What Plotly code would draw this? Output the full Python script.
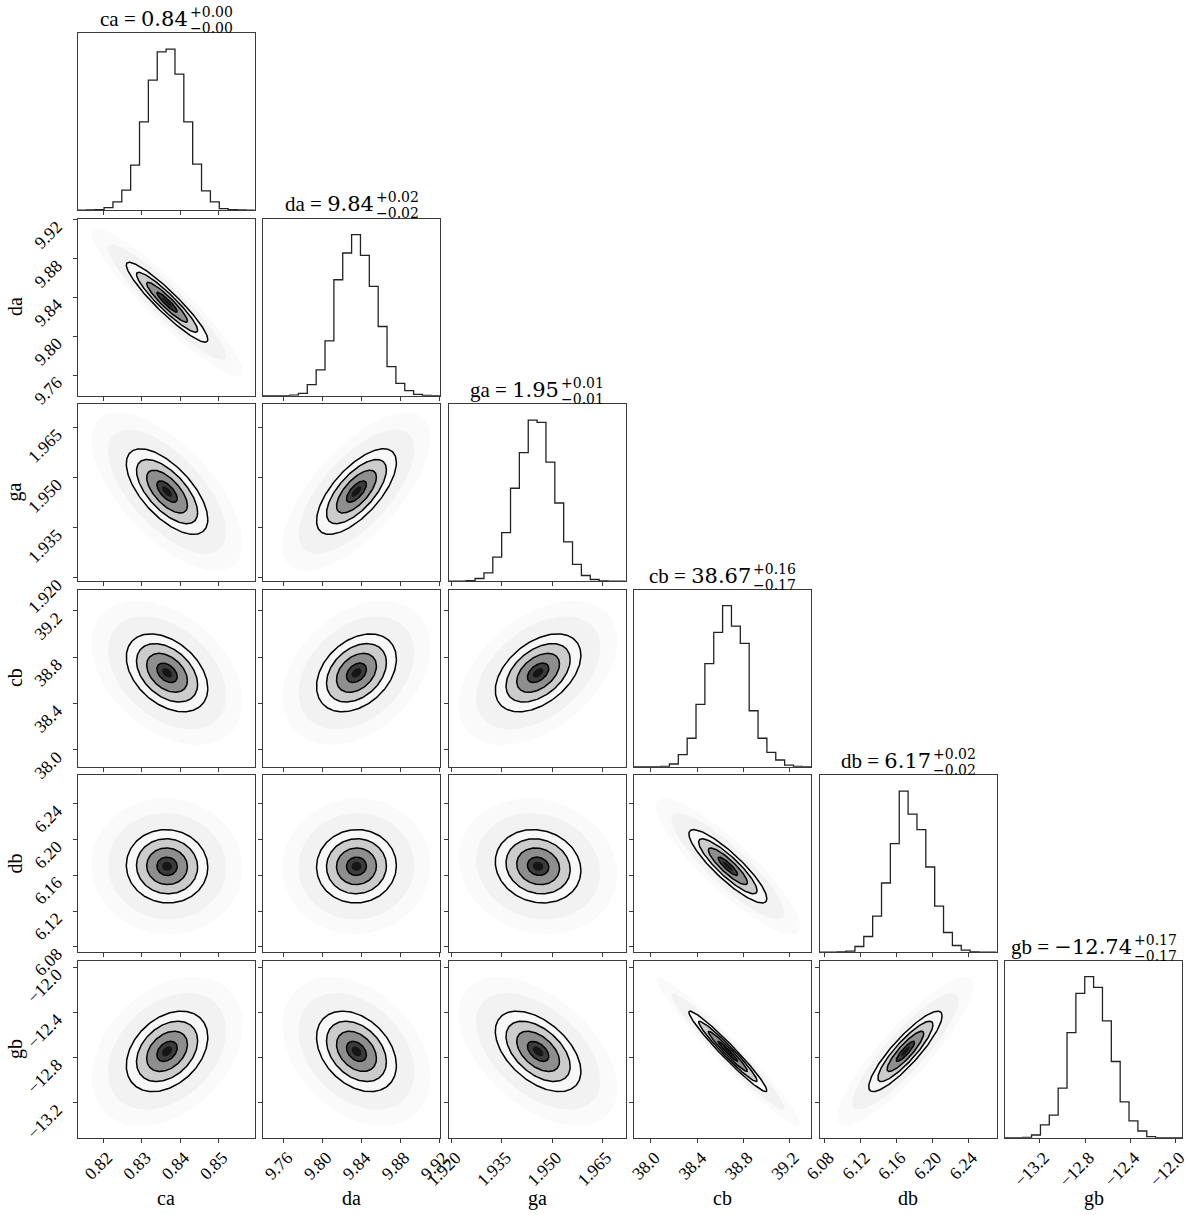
import numpy as np
import plotly.graph_objects as go

W, H = 1200, 1215

# ---------------- data ----------------
labels = ["ca", "da", "ga", "cb", "db", "gb"]
medians = ["0.84", "9.84", "1.95", "38.67", "6.17", "\u221212.74"]
err_plus = ["0.00", "0.02", "0.01", "0.16", "0.02", "0.17"]
err_minus = ["0.00", "0.02", "0.01", "0.17", "0.02", "0.17"]

range_ca = [0.8133, 0.8594]
range_da = [9.739, 9.921]
range_ga = [1.919, 1.972]
range_cb = [37.855, 39.384]
range_db = [6.074, 6.272]
range_gb = [-13.509, -11.941]

ticks_ca = [0.82, 0.83, 0.84, 0.85]
ticks_da = [9.76, 9.80, 9.84, 9.88, 9.92]
ticks_ga = [1.920, 1.935, 1.950, 1.965]
ticks_cb = [38.0, 38.4, 38.8, 39.2]
ticks_db = [6.08, 6.12, 6.16, 6.20, 6.24]
ticks_gb = [-13.2, -12.8, -12.4, -12.0]

ticklbl_ca = ["0.82", "0.83", "0.84", "0.85"]
ticklbl_da = ["9.76", "9.80", "9.84", "9.88", "9.92"]
ticklbl_ga = ["1.920", "1.935", "1.950", "1.965"]
ticklbl_cb = ["38.0", "38.4", "38.8", "39.2"]
ticklbl_db = ["6.08", "6.12", "6.16", "6.20", "6.24"]
ticklbl_gb = ["\u221213.2", "\u221212.8", "\u221212.4", "\u221212.0"]

# 20-bin histogram counts (relative heights)
hist_ca = [0, 1, 2, 8, 25, 60, 135, 265, 390, 475, 483, 408, 265, 138, 58, 25, 5, 2, 1, 0]
hist_da = [0, 0, 0.5, 2, 7, 33, 77, 164, 347, 427, 482, 420, 327, 207, 87, 37, 15, 4, 1, 0]
hist_ga = [0, 0, 2, 8, 25, 72, 145, 277, 383, 480, 473, 355, 233, 117, 50, 17, 5, 1, 0, 0]
hist_cb = [0, 0, 0, 1, 8, 36, 85, 186, 308, 401, 481, 420, 368, 167, 85, 43, 20, 5, 1, 0]
hist_db = [0, 0.5, 1, 3, 17, 47, 108, 207, 325, 482, 413, 367, 255, 138, 59, 20, 6, 1, 0, 0]
hist_gb = [0, 0.5, 1, 8, 38, 67, 148, 313, 430, 480, 448, 348, 227, 107, 50, 20, 3, 0.5, 0, 0]

# centres, spreads and pairwise correlations of the 2-D distributions
centers = [0.8366, 9.835, 1.9458, 38.665, 6.170, -12.745]
sigmas = [0.0053, 0.0205, 0.0064, 0.168, 0.0205, 0.178]
corr_da = [-0.93]
corr_ga = [-0.65, 0.68]
corr_cb = [-0.40, 0.35, 0.45]
corr_db = [-0.03, 0.02, -0.12, -0.88]
corr_gb = [0.35, -0.35, -0.50, -0.97, 0.88]

# ---------------------------------------------------------------
ranges = [range_ca, range_da, range_ga, range_cb, range_db, range_gb]
tickv = [ticks_ca, ticks_da, ticks_ga, ticks_cb, ticks_db, ticks_gb]
tickt = [ticklbl_ca, ticklbl_da, ticklbl_ga, ticklbl_cb, ticklbl_db, ticklbl_gb]
hists = [hist_ca, hist_da, hist_ga, hist_cb, hist_db, hist_gb]
corr = [[], corr_da, corr_ga, corr_cb, corr_db, corr_gb]

SERIF = "Liberation Serif"
MATH = "DejaVu Serif"
LEFT0, TOP0, PITCH, SIZE = 77.5, 33.0, 185.5, 177.2
MAIN_FS, SCR_FS = 21, 14


def xdom(j):
    l = LEFT0 + j * PITCH
    return [l / W, (l + SIZE) / W]


def ydom(i):
    t = TOP0 + i * PITCH
    return [1 - (t + SIZE) / H, 1 - t / H]


def ellipse(mx, my, sx, sy, rho, r, n=181):
    t = np.linspace(0, 2 * np.pi, n)
    u, v = np.cos(t), np.sin(t)
    return mx + r * sx * u, my + r * sy * (rho * u + np.sqrt(1 - rho ** 2) * v)


fig = go.Figure()
layout = dict(width=W, height=H, autosize=False, margin=dict(l=0, r=0, t=0, b=0, pad=0),
              paper_bgcolor="white", plot_bgcolor="white", showlegend=False)
annotations = []

AX_COMMON = dict(showgrid=False, zeroline=False, showline=True, mirror=True,
                 linecolor="#3a3a3a", linewidth=1, ticks="outside", ticklen=4,
                 tickwidth=1, tickcolor="#3a3a3a", automargin=False,
                 tickfont=dict(family=SERIF, size=17.5, color="black"),
                 tickangle=-45)

k = 0
for i in range(6):
    for j in range(i + 1):
        k += 1
        sfx = "" if k == 1 else str(k)
        xref, yref = "x" + sfx, "y" + sfx
        xa = dict(AX_COMMON, domain=xdom(j), range=ranges[j], anchor=yref,
                  tickmode="array", tickvals=tickv[j], ticktext=tickt[j],
                  showticklabels=(i == 5), ticklabelshift=4, ticklabelstandoff=-2)
        if i == j:
            cnt = hists[i]
            lo, hi = ranges[i]
            edges = [lo + (hi - lo) * b / len(cnt) for b in range(len(cnt) + 1)]
            fig.add_trace(go.Scatter(x=edges, y=list(cnt) + [cnt[-1]], mode="lines",
                                     line=dict(color="#222222", width=1.3, shape="hv"),
                                     xaxis=xref, yaxis=yref, hoverinfo="skip"))
            ya = dict(AX_COMMON, domain=ydom(i), range=[0, 1.1 * max(cnt)], anchor=xref,
                      showticklabels=False, ticks="")
            # title
            xc = LEFT0 + j * PITCH + SIZE / 2
            tw = {'c': .444, 'a': .444, 'd': .5, 'g': .5, 'b': .5, ' ': .25, '=': .564}
            mw = {'.': .318, '+': .838, '\u2212': .838}
            lead = labels[i] + " = "
            main_w = MAIN_FS * (sum(tw.get(c, .5) for c in lead) + sum(mw.get(c, .636) for c in medians[i]))
            scr_w = SCR_FS * max(sum(mw.get(c, .636) for c in "+" + err_plus[i]),
                                 sum(mw.get(c, .636) for c in "\u2212" + err_minus[i]))
            xr = (xc + (main_w - scr_w) / 2) / W
            yt = ydom(i)[1]
            annotations.append(dict(
                x=xr, y=yt, xref="paper", yref="paper", xanchor="right", yanchor="bottom",
                yshift=1, showarrow=False, borderpad=0,
                text=lead + '<span style="font-family:DejaVu Serif">' + medians[i] + "</span>",
                font=dict(family=SERIF, size=MAIN_FS, color="black")))
            annotations.append(dict(
                x=xr, y=yt, xref="paper", yref="paper", xanchor="left", yanchor="bottom",
                yshift=12, showarrow=False, borderpad=0, text="+" + err_plus[i],
                font=dict(family=MATH, size=SCR_FS, color="black")))
            annotations.append(dict(
                x=xr, y=yt, xref="paper", yref="paper", xanchor="left", yanchor="bottom",
                yshift=-4, showarrow=False, borderpad=0, text="\u2212" + err_minus[i],
                font=dict(family=MATH, size=SCR_FS, color="black")))
        else:
            mx, my = centers[j], centers[i]
            sx, sy = sigmas[j], sigmas[i]
            rho = corr[i][j]
            fills = [(3.7, "#fafafa"), (2.9, "#f2f2f2"), (2.0, "#f8f8f8"),
                     (1.5, "#cccccc"), (1.0, "#8e8e8e"), (0.5, "#3c3c3c"), (0.25, "#151515")]
            for r, col in fills:
                ex, ey = ellipse(mx, my, sx, sy, rho, r)
                fig.add_trace(go.Scatter(x=ex, y=ey, mode="lines", fill="toself",
                                         fillcolor=col, line=dict(width=0),
                                         xaxis=xref, yaxis=yref, hoverinfo="skip"))
            for r in [2.0, 1.5, 1.0, 0.5]:
                ex, ey = ellipse(mx, my, sx, sy, rho, r)
                fig.add_trace(go.Scatter(x=ex, y=ey, mode="lines",
                                         line=dict(color="black", width=1.5),
                                         xaxis=xref, yaxis=yref, hoverinfo="skip"))
            ya = dict(AX_COMMON, domain=ydom(i), range=ranges[i], anchor=xref,
                      tickmode="array", tickvals=tickv[i], ticktext=tickt[i],
                      showticklabels=(j == 0), ticklabelstandoff=12, ticklabelshift=5)
        layout["xaxis" + sfx] = xa
        layout["yaxis" + sfx] = ya

# axis labels
for j in range(6):
    xc = (LEFT0 + j * PITCH + SIZE / 2) / W
    annotations.append(dict(x=xc, y=1 - 1198 / H, xref="paper", yref="paper",
                            xanchor="center", yanchor="middle", showarrow=False,
                            text=labels[j], font=dict(family=SERIF, size=20, color="black")))
for i in range(1, 6):
    yc = 1 - (TOP0 + i * PITCH + SIZE / 2) / H
    annotations.append(dict(x=15 / W, y=yc, xref="paper", yref="paper",
                            xanchor="center", yanchor="middle", showarrow=False, textangle=-90,
                            text=labels[i], font=dict(family=SERIF, size=20, color="black")))

layout["annotations"] = annotations
fig.update_layout(**layout)
fig.write_html("out.html", config={"displayModeBar": False},
               post_script="document.body.style.margin='0px';document.body.style.overflow='hidden';")
